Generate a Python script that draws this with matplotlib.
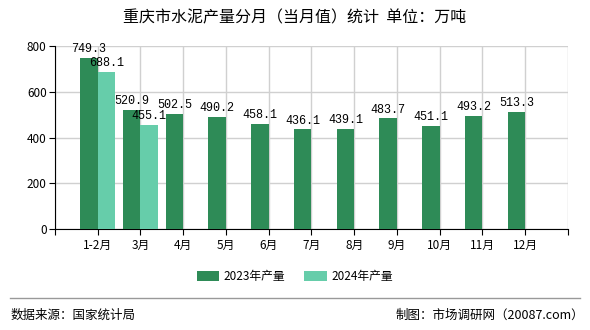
import numpy as np
import matplotlib.pyplot as plt

plt.rcParams['font.family'] = ['Noto Sans CJK SC', 'DejaVu Sans']

months = ['1-2月', '3月', '4月', '5月', '6月', '7月', '8月', '9月', '10月', '11月', '12月']
v2023 = [749.3, 520.9, 502.5, 490.2, 458.1, 436.1, 439.1, 483.7, 451.1, 493.2, 513.3]
v2024 = [688.1, 455.1]
c2023 = '#2E8B57'
c2024 = '#66CDAA'

fig = plt.figure(figsize=(5.9, 3.3), dpi=100)
ax = fig.add_axes([0.0932, 0.306, 0.8695, 0.5545])

x = np.arange(1, len(months) + 1)
w = 0.41
ax.bar(x[:len(v2023)] - w / 2, v2023, w, color=c2023, label='2023年产量', zorder=3)
ax.bar(x[:len(v2024)] + w / 2, v2024, w, color=c2024, label='2024年产量', zorder=3)

for xi, v in zip(x, v2023):
    ax.text(xi - w / 2, v + 12, f'{v:.1f}', ha='center', va='bottom', fontsize=8.5,
            family='Liberation Mono', zorder=4)
for xi, v in zip(x, v2024):
    ax.text(xi + w / 2, v + 12, f'{v:.1f}', ha='center', va='bottom', fontsize=8.5,
            family='Liberation Mono', zorder=4)

ax.set_xlim(0, 12)
ax.set_ylim(0, 800)
ax.set_xticks(np.arange(0, 13))
ax.set_xticklabels([''] + months + [''], fontsize=8.5)
ax.set_yticks([0, 200, 400, 600, 800])
ax.tick_params(axis='y', labelsize=8.5, length=4, pad=2)
ax.tick_params(axis='x', length=4, pad=3)
ax.grid(True, color='#d0d0d0', lw=1, zorder=0)
for s in ['top', 'right']:
    ax.spines[s].set_visible(False)
ax.spines['left'].set_color('black')
ax.spines['bottom'].set_color('black')

fig.text(0.5, 0.945, '重庆市水泥产量分月（当月值）统计  单位：万吨', ha='center', va='center', fontsize=11.5)
fig.legend(loc='center', bbox_to_anchor=(0.5, 0.163), ncol=2, frameon=False, fontsize=8.5,
           handlelength=1.9, handleheight=0.9, handletextpad=0.4, columnspacing=1.6)

fig.add_artist(plt.Line2D([0.017, 0.983], [0.097, 0.097], color='#999999', lw=1))
fig.text(0.017, 0.045, '数据来源：国家统计局', ha='left', va='center', fontsize=9)
fig.text(0.99, 0.045, '制图：市场调研网（20087.com）', ha='right', va='center', fontsize=9)

fig.savefig('out.png', dpi=100)
plt.close()
